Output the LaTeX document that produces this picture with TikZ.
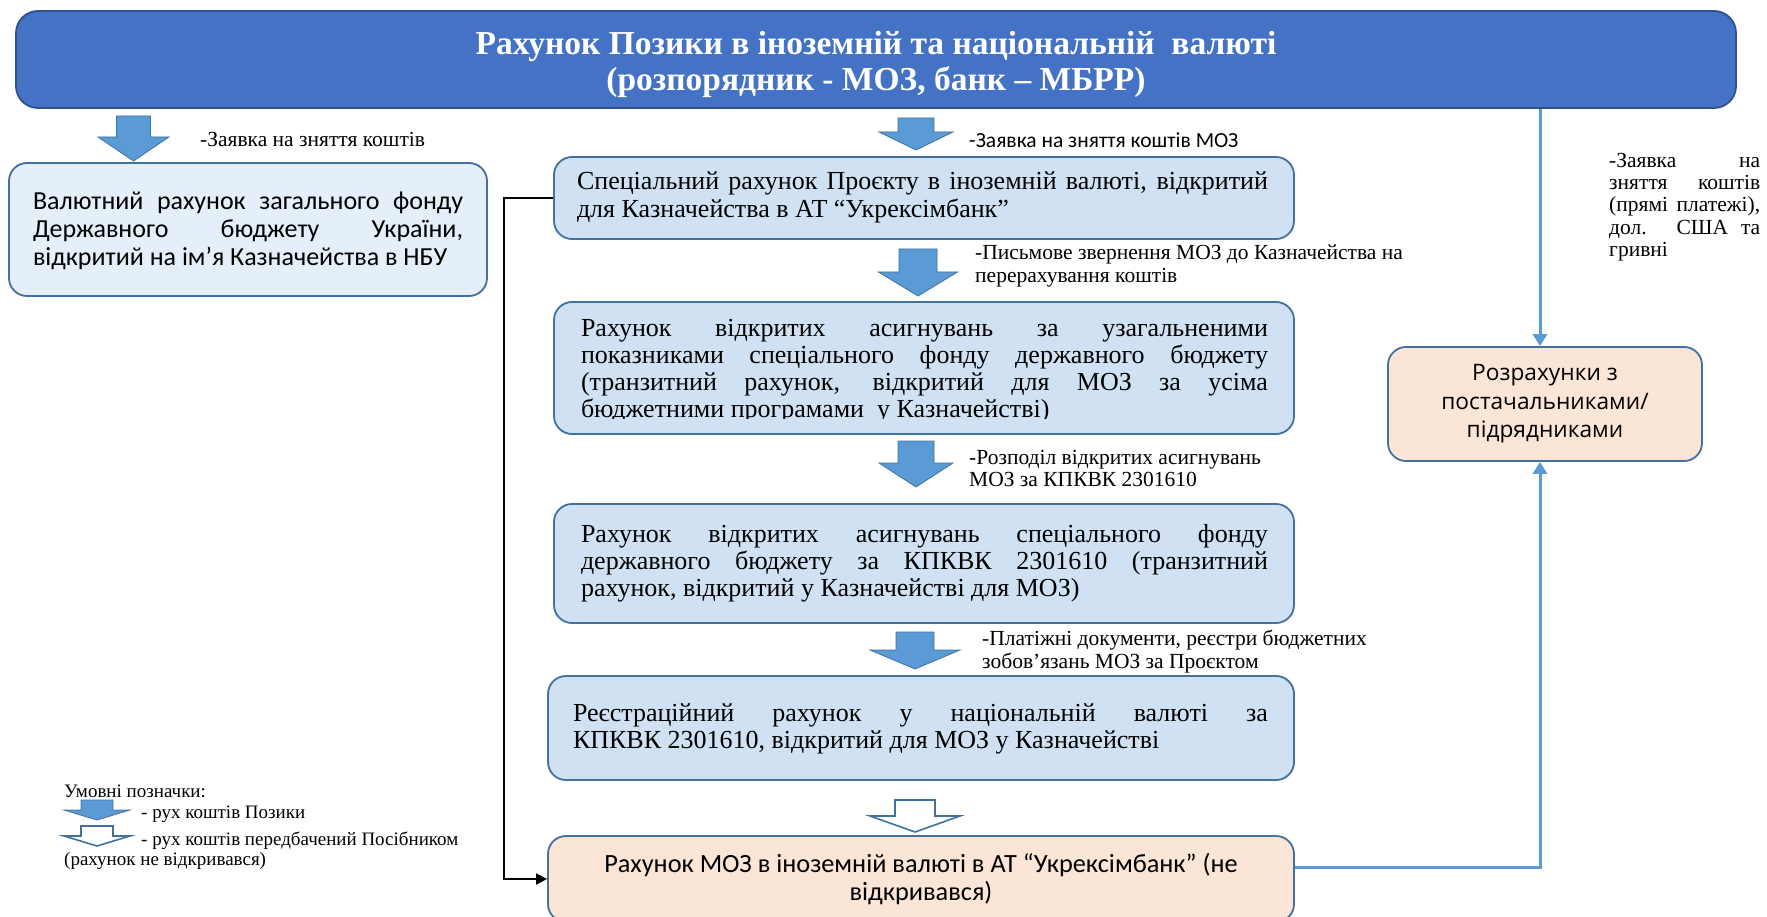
\documentclass[tikz,border=0pt]{standalone}
\usepackage{fontspec}
\setmainfont{Liberation Serif}
\newfontfamily\calfont{Carlito}
\newfontfamily\osfont{Open Sans}
\usetikzlibrary{arrows.meta}
\definecolor{titlefill}{HTML}{4472C4}
\definecolor{titledraw}{HTML}{2F528F}
\definecolor{boxfill}{HTML}{CFE1F2}
\definecolor{lboxfill}{HTML}{E5EFF9}
\definecolor{boxdraw}{HTML}{41719C}
\definecolor{peach}{HTML}{FBE5D6}
\definecolor{arrfill}{HTML}{5B9BD5}
\definecolor{connblue}{HTML}{5B9BD5}
\newcommand\blkarrow[7]{%
  \draw[#7] (#1-#6,#2) -- (#1+#6,#2) -- (#1+#6,#3) -- (#1+#5,#3) -- (#1,#4) -- (#1-#5,#3) -- (#1-#6,#3) -- cycle;}
\tikzset{
  box/.style={draw=boxdraw, line width=1.8pt, rounded corners=18pt, inner sep=0pt},
  bluebox/.style={box, fill=boxfill},
  serifbody/.style={font=\fontsize{26}{27}\selectfont, align=justify, inner sep=0pt},
  lbl/.style={font=\fontsize{21.5}{22.5}\selectfont, align=left, inner sep=0pt, anchor=west},
  lgd/.style={font=\fontsize{19}{20}\selectfont, align=left, inner sep=0pt, anchor=west},
  farrow/.style={fill=arrfill, draw=boxdraw, line width=0.8pt},
  harrow/.style={fill=white, draw=boxdraw, line width=1.6pt},
  blueconn/.style={draw=connblue, line width=3pt, -{Triangle[width=14pt,length=12pt]}},
  blackconn/.style={draw=black, line width=1.6pt, -{Triangle[width=11pt,length=11pt]}},
}
\begin{document}
\begin{tikzpicture}[x=1pt,y=-1pt]
\useasboundingbox (0,0) rectangle (1767,917);
\clip (0,0) rectangle (1767,917);

% title
\node[draw=titledraw, line width=1.8pt, fill=titlefill, rounded corners=22pt,
      minimum width=1720pt, minimum height=97pt, inner sep=0pt] (title) at (876,59.5) {};
\node[text=white, font=\bfseries\fontsize{33.5}{36}\selectfont, align=center, inner sep=0pt]
  (titlet) at (876,64) {Рахунок Позики в іноземній та національній\ \ валюті\\(розпорядник - МОЗ, банк -- МБРР)};

% left column
\blkarrow{133.5}{116}{137}{161}{35.5}{17}{farrow}
\node[lbl] (l0) at (200,139) {-Заявка на зняття коштів};
\node[box, fill=lboxfill, minimum width=478pt, minimum height=133pt] (lb) at (248,229.5) {};
\node[inner sep=0pt, text width=430pt, align=justify, font=\calfont\fontsize{26}{28}\selectfont]
  (lbt) at (248,231) {Валютний рахунок загального фонду\linebreak Державного бюджету України,\linebreak відкритий на ім’я Казначейства в НБУ};

% centre column
\blkarrow{916}{118}{132}{150}{37}{18}{farrow}
\node[lbl, font=\calfont\fontsize{21.5}{22}\selectfont] (l1) at (969,140) {-Заявка на зняття коштів МОЗ};
\node[bluebox, minimum width=740pt, minimum height=82pt] (b1) at (924,198) {};
\node[serifbody, font=\fontsize{26}{28}\selectfont, text width=691pt] (b1t) at (922.5,197) {Спеціальний рахунок Проєкту в іноземній валюті, відкритий\linebreak для Казначейства в АТ “Укрексімбанк”};

\blkarrow{918}{249}{272}{296}{39.5}{19}{farrow}
\node[lbl] (l2) at (975,266) {-Письмове звернення МОЗ до Казначейства на\\перерахування коштів};
\node[bluebox, minimum width=740pt, minimum height=132pt] (b2) at (924,368) {};
\begin{scope}
\clip (554,302) rectangle (1294,418);
\node[serifbody, text width=687pt] (b2t) at (924.5,371) {Рахунок відкритих асигнувань за узагальненими\linebreak показниками спеціального фонду державного бюджету\linebreak (транзитний рахунок, відкритий для МОЗ за усіма\linebreak бюджетними програмами\ \ у Казначействі)};
\end{scope}

\blkarrow{916}{441}{463}{487}{37}{18}{farrow}
\node[lbl] (l3) at (969,468.5) {-Розподіл відкритих асигнувань\\МОЗ за КПКВК 2301610};
\node[bluebox, minimum width=740pt, minimum height=119pt] (b3) at (924,563.5) {};
\node[serifbody, text width=687pt] (b3t) at (924.5,563.5) {Рахунок відкритих асигнувань спеціального фонду\linebreak державного бюджету за КПКВК 2301610 (транзитний\linebreak рахунок, відкритий у Казначействі для МОЗ)};

\blkarrow{915}{632}{650}{669}{45}{19}{farrow}
\node[lbl] (l4) at (982,651.5) {-Платіжні документи, реєстри бюджетних\\зобов’язань МОЗ за Проєктом};
\node[bluebox, minimum width=746pt, minimum height=104pt] (b4) at (921,728) {};
\node[serifbody, text width=695pt] (b4t) at (920.5,729) {Реєстраційний рахунок у національній валюті за\linebreak КПКВК 2301610, відкритий для МОЗ у Казначействі};

\blkarrow{915}{800}{816}{832}{45}{20}{harrow}
\node[box, fill=peach, minimum width=746pt, minimum height=86pt,
      font=\calfont\fontsize{26.3}{28.5}\selectfont, align=center] (b5) at (921,879)
  {Рахунок МОЗ в іноземній валюті в АТ “Укрексімбанк” (не\\відкривався)};

% right column
\node[box, fill=peach, minimum width=314pt, minimum height=114pt,
      font=\osfont\fontsize{22.7}{28.5}\selectfont, align=center] (rb) at (1545,404)
  {Розрахунки з\\постачальниками/\\підрядниками};
\node[inner sep=0pt, text width=151pt, align=justify, anchor=west,
      font=\fontsize{21.5}{22.3}\selectfont] (rl) at (1609,207)
  {-Заявка на\linebreak зняття коштів\linebreak (прямі платежі),\linebreak дол. США та\linebreak гривні};

% connectors
\draw[blueconn] (title.south -| 1540,0) -- (rb.north -| 1540,0);
\draw[blueconn] (b5.east |- 0,867) -| (rb.south -| 1540,0);
\draw[blackconn] (b1.west) -- ([xshift=-49pt]b1.west) |- (b5.west);

% legend
\node[lgd] (lg0) at (64,791) {Умовні позначки:};
\blkarrow{97}{800}{810}{820}{33}{16}{farrow}
\node[lgd] (lg1) at (141,814) {- рух коштів Позики};
\blkarrow{97}{826}{836}{846}{33}{16}{harrow}
\node[lgd] (lg2) at (141,841) {- рух коштів передбачений Посібником};
\node[lgd] (lg3) at (64,861) {(рахунок не відкривався)};
\end{tikzpicture}
\end{document}
